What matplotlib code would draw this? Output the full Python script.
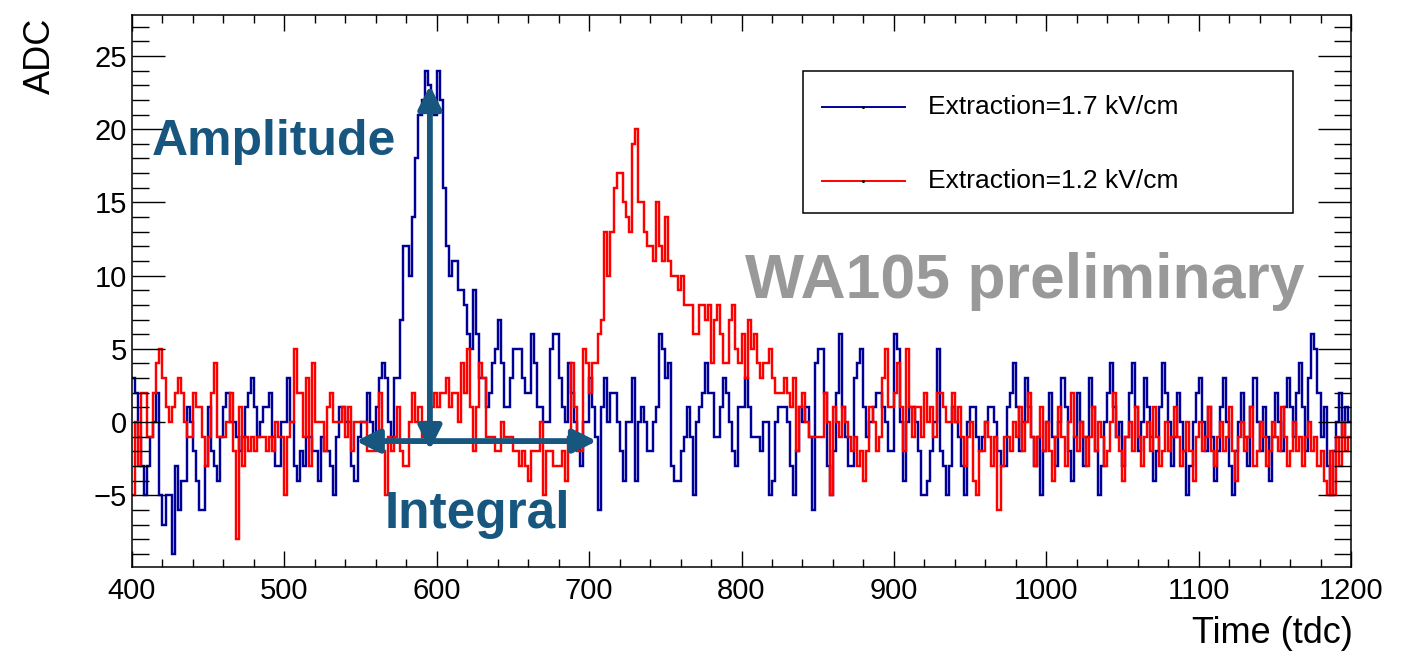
import matplotlib

matplotlib.use("Agg")

import matplotlib.pyplot as plt
from matplotlib.lines import Line2D
from matplotlib.patches import FancyArrowPatch, Rectangle
from matplotlib.ticker import MultipleLocator
import numpy as np

# histogram binning (tdc)
TDC_START = 400
BIN_WIDTH = 2

# Extraction = 1.7 kV/cm, one value per 2-tdc bin from 400 to 1200
BLUE_ADC = [
    3, 2, -1, -3, -5, -3, -1, 0, 2, -5,
    -7, -5, -5, -9, -3, -6, -4, -4, 1, 0,
    -2, -4, -6, -6, -3, 1, -2, -3, -4, -1,
    1, 2, 0, 0, -1, -2, -1, 1, 2, 3,
    1, -1, 0, 1, 1, 2, -1, -3, -3, 0,
    0, 3, 0, -3, -4, -2, -3, -1, -1, -2,
    -2, -4, -1, -2, -2, -3, -5, -1, 1, 1,
    0, 0, -3, -4, -1, 0, 0, 2, 0, -1,
    1, 3, 4, 3, 0, -1, 3, 3, 7, 12,
    12, 10, 14, 18, 21, 22, 24, 23, 22, 21,
    24, 22, 16, 12, 10, 11, 11, 9, 9, 8,
    6, 5, 9, 6, 3, 3, 1, 2, 4, 5,
    7, 4, 1, 1, 3, 5, 5, 5, 3, 2,
    2, 6, 4, 1, 1, 0, 0, 5, 6, 6,
    3, 1, 0, 4, 2, 0, -1, -3, 0, 0,
    3, 1, -1, -6, 1, 3, 0, 2, 2, 0,
    -2, -4, 0, 0, 3, -4, 0, 1, 0, -2,
    -2, 0, 1, 6, 5, 3, 4, -3, -4, -4,
    -2, -1, 1, -1, -5, 0, 1, 2, 4, 2,
    2, -1, -1, 1, 3, 2, 0, -2, -3, 1,
    1, 3, 1, -1, -1, -1, -2, 0, 0, -5,
    -4, 0, 1, 1, 1, 0, -3, -5, -2, 1,
    0, 1, -1, -6, 4, 5, 5, 2, -3, -5,
    -2, 2, 6, 1, -1, -3, -3, 3, 4, 5,
    1, -1, 0, 1, 2, 2, 1, 0, -2, -2,
    6, 5, 0, -4, 0, 1, 1, 0, -2, -5,
    -5, -4, -2, 0, 5, -2, -3, -5, -3, 1,
    0, -1, -3, -5, 0, 1, 1, -1, -2, -1,
    0, 1, 1, 0, -2, -3, -3, 1, 2, 4,
    1, -2, 0, 3, 1, -1, -3, -1, -5, -2,
    0, 2, -1, -3, 0, 3, 1, -2, -4, -1,
    2, 0, -3, -1, 3, 1, -2, -5, -3, 0,
    2, 4, 1, -1, 0, -3, -1, 2, 4, 1,
    -2, 0, 3, 1, -1, -4, -2, 1, 4, 2,
    0, -3, -1, 2, 0, -2, -5, -3, 0, 2,
    3, 0, -2, 1, -1, -4, -2, 1, 3, 0,
    -3, -5, -2, 0, 2, -1, -3, 1, 3, 0,
    -2, 1, -1, -4, -1, 2, 0, -2, 1, 3,
    1, -1, 2, 4, 1, -2, 3, 6, 5, 2,
    -1, 1, -3, -5, -2, 0, 2, -1, 1, 0,
]

# Extraction = 1.2 kV/cm
RED_ADC = [
    -5, 0, -3, 2, 2, -1, -1, 2, 4, 5,
    3, 1, 0, 1, 2, 3, 2, 0, -1, -1,
    2, 1, 1, -1, -3, -1, 2, 4, -1, -1,
    -1, 0, 2, -2, -8, 1, -3, -1, -2, -1,
    -2, -1, -1, -1, -2, -1, -2, 0, -1, -1,
    -5, -1, 0, 5, 2, 2, -1, 3, -3, 4,
    0, 0, 0, -2, 1, 2, 0, 0, 0, 1,
    -1, 1, -2, 0, 0, 0, 0, -2, -2, -2,
    -2, 2, -2, -5, -1, -2, -1, 1, -2, -3,
    -3, 0, 2, 0, 1, -1, 0, 0, 1, 2,
    1, 2, 2, 3, 1, 2, 2, 0, 4, 2,
    5, 1, -2, 1, 4, 3, -1, -1, -1, -2,
    -2, 0, -1, -1, -1, -2, -2, -3, -2, -3,
    -4, -2, -2, -2, 0, -5, -2, -2, -3, -3,
    -3, -2, -4, -1, 4, 1, -2, -2, 5, 4,
    2, 4, 4, 6, 7, 13, 10, 13, 16, 17,
    17, 15, 14, 13, 19, 20, 15, 15, 13, 12,
    12, 11, 15, 12, 11, 14, 11, 10, 10, 9,
    10, 8, 8, 8, 6, 6, 8, 8, 7, 8,
    4, 7, 8, 6, 4, 4, 7, 8, 5, 4,
    6, 3, 7, 5, 6, 4, 3, 4, 4, 5,
    3, 2, 2, 2, 3, 2, 1, 3, -2, 1,
    2, 0, -1, -1, -1, -1, -1, 2, 0, -5,
    1, 0, -1, 1, 0, -1, -2, -1, -3, -2,
    -4, -2, 1, 0, -2, -1, 3, 5, 1, 1,
    2, 4, 1, -2, 5, 1, -1, 1, 1, -1,
    2, 0, 1, -1, 2, 2, 1, 0, 0, 2,
    0, 1, -1, -3, -1, 0, -4, -5, -2, -2,
    0, -1, -3, -1, -6, -3, -1, -1, -2, 0,
    -1, 1, -2, 0, 2, -1, -3, -1, 1, -2,
    0, -2, -4, -1, 1, -1, -3, 0, 2, -1,
    -2, 0, -1, -3, -1, 1, -2, 0, -1, -3,
    -2, 0, 2, -1, -2, -4, -1, 0, -2, 1,
    -1, -3, -1, 0, -2, 1, -1, -3, -2, 0,
    -2, -1, 1, -1, -3, -2, 0, -2, -4, -1,
    0, -2, -1, 1, -2, -3, -1, 0, -2, -1,
    1, -2, -4, -1, 0, -2, -1, 1, -3, -2,
    0, -1, -3, -2, 0, -1, -2, 1, -1, -3,
    -2, 0, -2, -1, -3, -1, 0, -2, -1, -3,
    -2, -4, -5, -2, -5, -1, -3, 0, -2, -1,
]

SERIES_LABELS = ["Extraction=1.7 kV/cm", "Extraction=1.2 kV/cm"]

# annotation anchors (tdc, ADC)
AMPLITUDE_TDC = 595.5
AMPLITUDE_RANGE = (-1.9, 23.0)
INTEGRAL_RANGE = (547.0, 705.0)
INTEGRAL_LEVEL = -1.3

BLUE = "#000099"
RED = "#FF0000"
NOTE_COLOR = "#17567E"
GRAY = "#999999"
HIST_LW = 1.75

W, H = 1417, 654

plt.rcParams["font.family"] = ["Liberation Sans", "DejaVu Sans"]

fig = plt.figure(figsize=(W / 100, H / 100), dpi=100)
ax = fig.add_axes([132 / W, 1 - 567 / H, (1351 - 132) / W, (567 - 15) / H])

edges = TDC_START + BIN_WIDTH * np.arange(len(BLUE_ADC) + 1)
ax.stairs(BLUE_ADC, edges, color=BLUE, linewidth=HIST_LW, baseline=None)
ax.stairs(RED_ADC, edges, color=RED, linewidth=HIST_LW, baseline=None)

ax.set_xlim(400, 1200)
ax.set_ylim(-9.9, 27.8)
ax.xaxis.set_major_locator(MultipleLocator(100))
ax.xaxis.set_minor_locator(MultipleLocator(20))
ax.yaxis.set_major_locator(MultipleLocator(5))
ax.yaxis.set_minor_locator(MultipleLocator(1))
ax.tick_params(axis="both", which="both", direction="in", top=True, right=True,
               width=1.0, labelsize=21, colors="black")
ax.tick_params(axis="x", which="major", length=11.5, pad=7)
ax.tick_params(axis="x", which="minor", length=5.8)
ax.tick_params(axis="y", which="major", length=24, pad=3.5)
ax.tick_params(axis="y", which="minor", length=12)
for spine in ax.spines.values():
    spine.set_linewidth(1.1)

fig.text(40 / W, 1 - 18 / H, "ADC", rotation=90, ha="center", va="top", fontsize=26)
fig.text(1353 / W, 1 - 643 / H, "Time (tdc)", ha="right", va="baseline", fontsize=26)

# amplitude / integral markers
arrow_kw = dict(arrowstyle="<|-|>,head_length=1.4,head_width=0.7", mutation_scale=10,
                color=NOTE_COLOR, linewidth=4.2, shrinkA=0, shrinkB=0, zorder=5)
ax.add_patch(FancyArrowPatch((AMPLITUDE_TDC, AMPLITUDE_RANGE[0]),
                             (AMPLITUDE_TDC, AMPLITUDE_RANGE[1]), **arrow_kw))
ax.add_patch(FancyArrowPatch((INTEGRAL_RANGE[0], INTEGRAL_LEVEL),
                             (INTEGRAL_RANGE[1], INTEGRAL_LEVEL), **arrow_kw))
fig.text(152 / W, 1 - 155 / H, "Amplitude", ha="left", va="baseline",
         fontsize=36, fontweight="bold", color=NOTE_COLOR)
fig.text(385 / W, 1 - 528 / H, "Integral", ha="left", va="baseline",
         fontsize=37, fontweight="bold", color=NOTE_COLOR)
fig.text(745 / W, 1 - 298 / H, "WA105 preliminary", ha="left", va="baseline",
         fontsize=45, fontweight="bold", color=GRAY)

# legend box
fig.patches.append(Rectangle((803 / W, 1 - 213 / H), (1293 - 803) / W, (213 - 71) / H,
                             transform=fig.transFigure, facecolor="white",
                             edgecolor="black", linewidth=1.1, zorder=6))
for color, label, ypix in zip([BLUE, RED], SERIES_LABELS, [107, 181]):
    yf = 1 - ypix / H
    fig.add_artist(Line2D([822 / W, 905 / W], [yf, yf], color=color, linewidth=1.4,
                          transform=fig.transFigure, zorder=7))
    fig.add_artist(Line2D([863.5 / W], [yf], color="black", marker="o", markersize=1.2,
                          transform=fig.transFigure, zorder=8))
    fig.text(928 / W, yf, label, ha="left", va="center", fontsize=19, zorder=8)

fig.savefig("out.png", dpi=100)
